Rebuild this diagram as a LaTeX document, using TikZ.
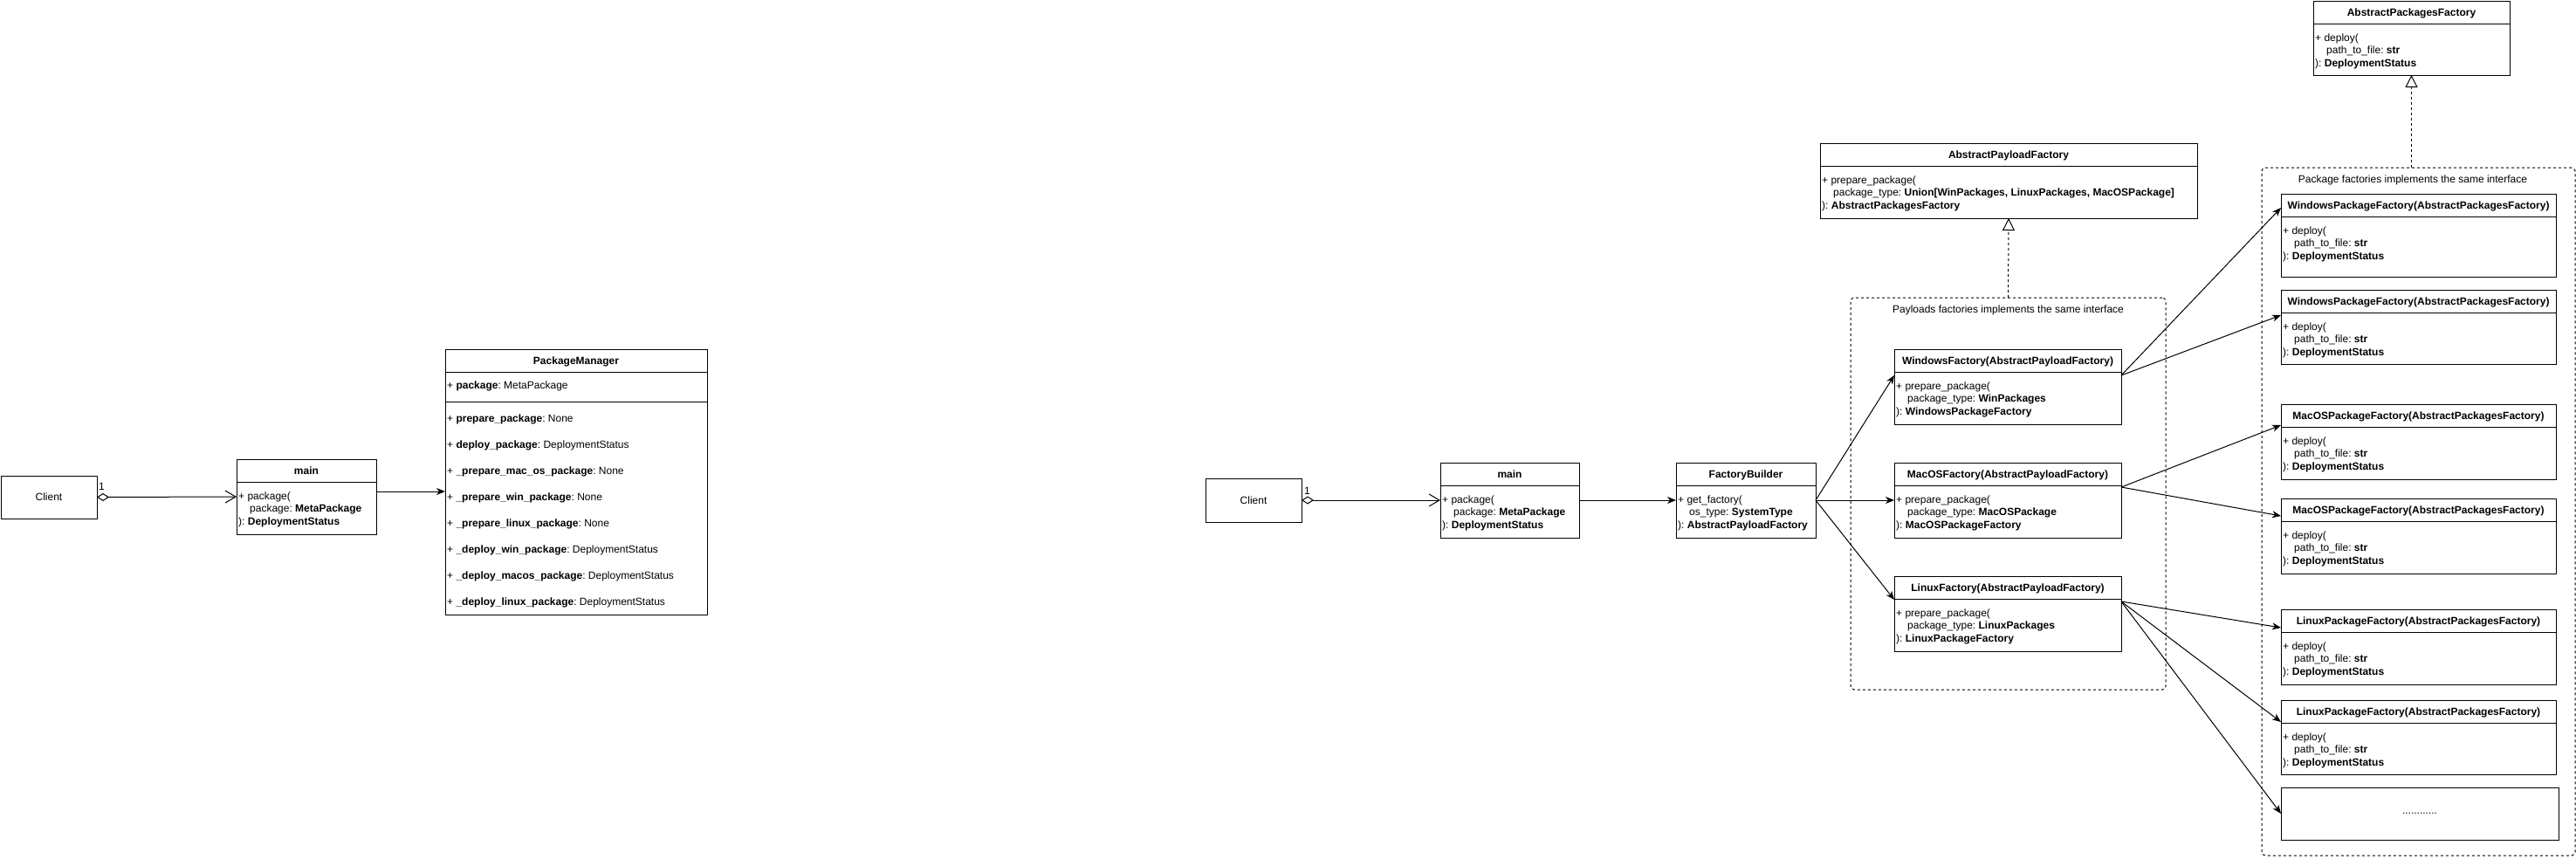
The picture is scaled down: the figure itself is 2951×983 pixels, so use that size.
\documentclass[tikz,border=0pt]{standalone}
\usepackage{fontspec}
\setmainfont{Liberation Sans}
\usetikzlibrary{arrows.meta,calc}
\frenchspacing
\newcommand{\myind}{\hspace*{13pt}}
\newcommand{\bodytxt}[1]{\vtop{\baselineskip=14.5pt\lineskiplimit=-20pt\lineskip=0pt #1}}
\newcommand{\clsbox}[7]{%
  \node[clsshape, minimum width=#4pt, minimum height=#5pt, anchor=north west] (#1) at (#2,#3) {};
  \draw[clsline] ([yshift=-26pt]#1.north west) -- ([yshift=-26pt]#1.north east);
  \node[clstitle, anchor=base] (#1-title) at ([yshift=-17pt]#1.north) {#6};
  \node[clsbody, anchor=base west] (#1-body) at ([xshift=2pt,yshift=-46pt]#1.north west) {\bodytxt{#7}};
}
\tikzset{
  clsshape/.style={draw=black, line width=1pt, rectangle, inner sep=0pt, outer sep=0pt, fill=white},
  clsline/.style={draw=black, line width=1pt},
  clstitle/.style={inner sep=0pt, font=\fontsize{12}{14.5}\selectfont\bfseries\frenchspacing},
  clsbody/.style={inner sep=0pt, font=\fontsize{12}{14.5}\selectfont\frenchspacing},
  txt/.style={inner sep=0pt, font=\fontsize{12}{14.5}\selectfont\frenchspacing},
  grp/.style={draw=black, line width=1pt, dash pattern=on 3pt off 3pt, rounded corners=4pt, rectangle, inner sep=0pt, outer sep=0pt},
  arr/.style={draw=black, line width=1pt, -{Stealth[length=10pt,width=8pt,inset=3pt]}},
  agg/.style={draw=black, line width=1pt, {Diamond[open,length=14pt,width=9pt]}-{Straight Barb[length=12pt,width=14pt]}},
  impl/.style={draw=black, line width=1pt, dash pattern=on 3pt off 3pt, -{Triangle[open,length=14pt,width=14pt]}},
}
\begin{document}
\frenchspacing
\begin{tikzpicture}[x=1pt,y=-1pt]
\fill[white] (0,0) rectangle (2951,983);
\useasboundingbox (0,0) rectangle (2951,983);

% ---------------- left part ----------------
\node[clsshape, minimum width=110pt, minimum height=49pt, anchor=north west] (client) at (1,545) {};
\node[txt] (client-label) at (client.center) {Client};
\node[txt, anchor=base west] (one1) at (113,561) {1};

\clsbox{mainA}{271}{526}{160}{86}{main}{%
  \hbox{+ package(}\hbox{\myind package: \textbf{MetaPackage}}\hbox{): \textbf{DeploymentStatus}}}

\node[clsshape, minimum width=300pt, minimum height=304pt, anchor=north west] (pm) at (510,400) {};
\draw[clsline] ([yshift=-26pt]pm.north west) -- ([yshift=-26pt]pm.north east);
\draw[clsline] ([yshift=-60pt]pm.north west) -- ([yshift=-60pt]pm.north east);
\node[clstitle, anchor=base] (pm-title) at ([yshift=-17pt]pm.north) {PackageManager};
\node[txt, anchor=base west] (pm-attr) at ([xshift=2pt,yshift=-45pt]pm.north west) {+ \textbf{package}: MetaPackage};
\node[txt, anchor=base west] (pm-methods) at ([xshift=2pt,yshift=-83pt]pm.north west) {\vtop{\baselineskip=30pt
  \hbox{+ \textbf{prepare\_package}: None}
  \hbox{+ \textbf{deploy\_package}: DeploymentStatus}
  \hbox{+ \textbf{\_prepare\_mac\_os\_package}: None}
  \hbox{+ \textbf{\_prepare\_win\_package}: None}
  \hbox{+ \textbf{\_prepare\_linux\_package}: None}
  \hbox{+ \textbf{\_deploy\_win\_package}: DeploymentStatus}
  \hbox{+ \textbf{\_deploy\_macos\_package}: DeploymentStatus}
  \hbox{+ \textbf{\_deploy\_linux\_package}: DeploymentStatus}}};

\draw[agg] (client.east) -- (mainA.west);
\draw[arr] ([yshift=-37pt]mainA.north east) -- ([yshift=-163pt]pm.north west);

% ---------------- right part ----------------
\node[clsshape, minimum width=110pt, minimum height=50pt, anchor=north west] (client2) at (1381,548) {};
\node[txt] (client2-label) at (client2.center) {Client};
\node[txt, anchor=base west] (one2) at (1494,566) {1};

\clsbox{mainB}{1650}{530}{159}{86}{main}{%
  \hbox{+ package(}\hbox{\myind package: \textbf{MetaPackage}}\hbox{): \textbf{DeploymentStatus}}}

\clsbox{fb}{1920}{530}{160}{86}{FactoryBuilder}{%
  \hbox{+ get\_factory(}\hbox{\myind os\_type: \textbf{SystemType}}\hbox{): \textbf{AbstractPayloadFactory}}}

\clsbox{apf}{2085}{164}{432}{86}{AbstractPayloadFactory}{%
  \hbox{+ prepare\_package(}\hbox{\myind package\_type: \textbf{Union[WinPackages, LinuxPackages, MacOSPackage]}}\hbox{): \textbf{AbstractPackagesFactory}}}

\node[grp, minimum width=361pt, minimum height=449pt, anchor=north west] (pgroup) at (2120,341) {};
\node[txt, anchor=base] (pgroup-title) at ([yshift=-17pt]pgroup.north) {Payloads factories implements the same interface};

\clsbox{wf}{2170}{400}{260}{86}{WindowsFactory(AbstractPayloadFactory)}{%
  \hbox{+ prepare\_package(}\hbox{\myind package\_type: \textbf{WinPackages}}\hbox{): \textbf{WindowsPackageFactory}}}
\clsbox{mf}{2170}{530}{260}{86}{MacOSFactory(AbstractPayloadFactory)}{%
  \hbox{+ prepare\_package(}\hbox{\myind package\_type: \textbf{MacOSPackage}}\hbox{): \textbf{MacOSPackageFactory}}}
\clsbox{lf}{2170}{660}{260}{86}{LinuxFactory(AbstractPayloadFactory)}{%
  \hbox{+ prepare\_package(}\hbox{\myind package\_type: \textbf{LinuxPackages}}\hbox{): \textbf{LinuxPackageFactory}}}

\clsbox{apkf}{2650}{1}{225}{85}{AbstractPackagesFactory}{%
  \hbox{+ deploy(}\hbox{\myind path\_to\_file: \textbf{str}}\hbox{): \textbf{DeploymentStatus}}}

\node[grp, minimum width=359pt, minimum height=788pt, anchor=north west] (kgroup) at (2591,192) {};
\node[txt, anchor=base] (kgroup-title) at (2764,209) {Package factories implements the same interface};

\clsbox{wpfA}{2613}{222}{315}{95}{WindowsPackageFactory(AbstractPackagesFactory)}{%
  \hbox{+ deploy(}\hbox{\myind path\_to\_file: \textbf{str}}\hbox{): \textbf{DeploymentStatus}}}
\clsbox{wpfB}{2613}{332}{315}{85}{WindowsPackageFactory(AbstractPackagesFactory)}{%
  \hbox{+ deploy(}\hbox{\myind path\_to\_file: \textbf{str}}\hbox{): \textbf{DeploymentStatus}}}
\clsbox{mpfA}{2613}{463}{315}{86}{MacOSPackageFactory(AbstractPackagesFactory)}{%
  \hbox{+ deploy(}\hbox{\myind path\_to\_file: \textbf{str}}\hbox{): \textbf{DeploymentStatus}}}
\clsbox{mpfB}{2613}{571}{315}{86}{MacOSPackageFactory(AbstractPackagesFactory)}{%
  \hbox{+ deploy(}\hbox{\myind path\_to\_file: \textbf{str}}\hbox{): \textbf{DeploymentStatus}}}
\clsbox{lpfA}{2613}{698}{315}{86}{LinuxPackageFactory(AbstractPackagesFactory)}{%
  \hbox{+ deploy(}\hbox{\myind path\_to\_file: \textbf{str}}\hbox{): \textbf{DeploymentStatus}}}
\clsbox{lpfB}{2613}{802}{315}{85}{LinuxPackageFactory(AbstractPackagesFactory)}{%
  \hbox{+ deploy(}\hbox{\myind path\_to\_file: \textbf{str}}\hbox{): \textbf{DeploymentStatus}}}

\node[clsshape, minimum width=318pt, minimum height=60pt, anchor=north west] (dots) at (2613,902) {};
\node[txt] (dots-label) at (dots.center) {............};

% connectors
\draw[agg] (client2.east) -- (mainB.west);
\draw[arr] (mainB.east) -- (fb.west);
\draw[arr] (fb.east) -- ([yshift=-30pt]wf.north west);
\draw[arr] (fb.east) -- (mf.west);
\draw[arr] (fb.east) -- ([yshift=-27pt]lf.north west);

\draw[arr] ([yshift=-30pt]wf.north east) -- ([yshift=-16pt]wpfA.north west);
\draw[arr] ([yshift=-30pt]wf.north east) -- ([yshift=-29pt]wpfB.north west);
\draw[arr] ([yshift=-28pt]mf.north east) -- ([yshift=-24pt]mpfA.north west);
\draw[arr] ([yshift=-28pt]mf.north east) -- ([yshift=-20pt]mpfB.north west);
\draw[arr] ([yshift=-29pt]lf.north east) -- ([yshift=-21pt]lpfA.north west);
\draw[arr] ([yshift=-29pt]lf.north east) -- ([yshift=-25pt]lpfB.north west);
\draw[arr] ([yshift=-29pt]lf.north east) -- (dots.west);

\draw[impl] (pgroup.north) -- (apf.south);
\draw[impl] (kgroup.north -| apkf.south) -- (apkf.south);
\end{tikzpicture}
\end{document}
